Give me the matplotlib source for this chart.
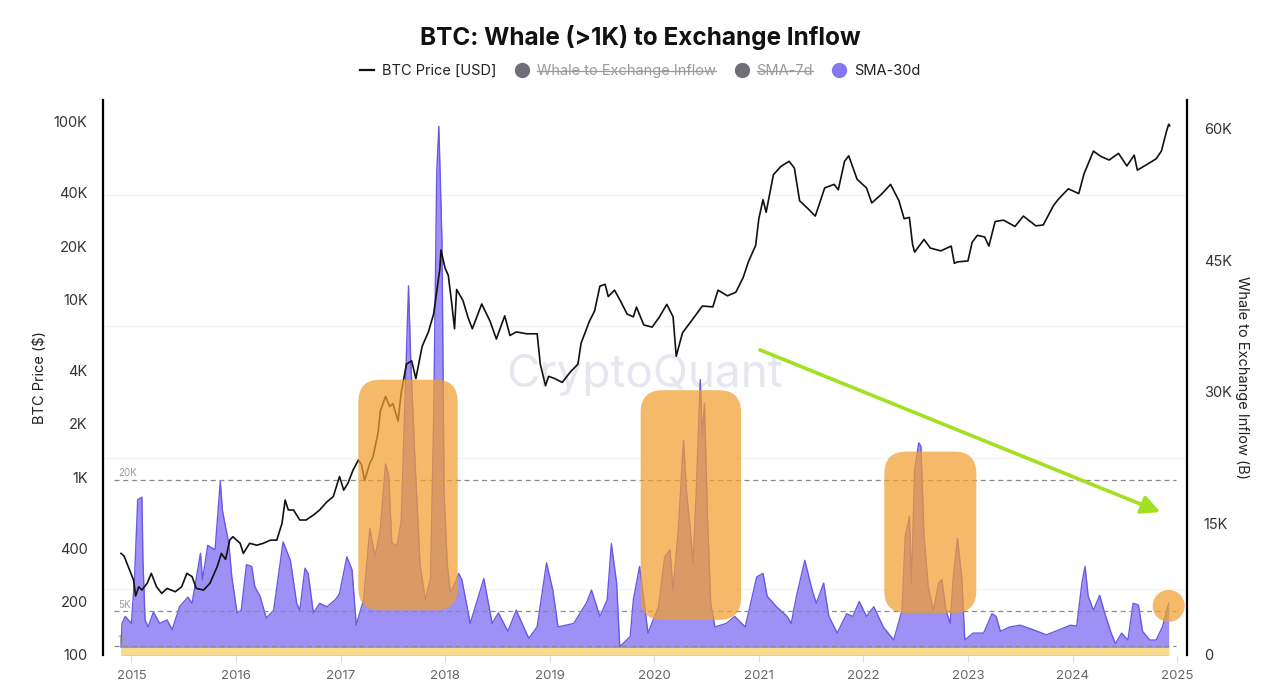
import matplotlib
matplotlib.use("Agg")
import matplotlib.pyplot as plt
from matplotlib.lines import Line2D
from matplotlib.patches import FancyBboxPatch, Ellipse
from matplotlib.ticker import FixedLocator, MultipleLocator

plt.rcParams["font.family"] = ["Inter", "DejaVu Sans"]

# BTC price (USD), decimal year -> price
price_t = [2014.90, 2014.93, 2014.97, 2015.02, 2015.04, 2015.07, 2015.10, 2015.15, 2015.19, 2015.24,
           2015.29, 2015.34, 2015.42, 2015.48, 2015.53, 2015.58, 2015.62, 2015.69, 2015.75, 2015.82,
           2015.86, 2015.90, 2015.94, 2015.97, 2016.04, 2016.07, 2016.13, 2016.20, 2016.26, 2016.33,
           2016.39, 2016.44, 2016.47, 2016.50, 2016.55, 2016.61, 2016.67, 2016.74, 2016.80, 2016.87,
           2016.93, 2016.99, 2017.03, 2017.07, 2017.12, 2017.17, 2017.20, 2017.23, 2017.28, 2017.31,
           2017.36, 2017.38, 2017.43, 2017.47, 2017.50, 2017.55, 2017.58, 2017.63, 2017.68, 2017.72,
           2017.78, 2017.84, 2017.89, 2017.95, 2017.96, 2018.00, 2018.03, 2018.06, 2018.09, 2018.11,
           2018.17, 2018.22, 2018.26, 2018.35, 2018.43, 2018.49, 2018.57, 2018.62, 2018.68, 2018.78,
           2018.88, 2018.91, 2018.96, 2018.99, 2019.05, 2019.12, 2019.20, 2019.27, 2019.30, 2019.38,
           2019.43, 2019.48, 2019.53, 2019.56, 2019.62, 2019.67, 2019.74, 2019.80, 2019.83, 2019.90,
           2019.98, 2020.05, 2020.12, 2020.18, 2020.21, 2020.27, 2020.36, 2020.46, 2020.56, 2020.61,
           2020.70, 2020.78, 2020.85, 2020.90, 2020.97, 2021.00, 2021.04, 2021.07, 2021.14, 2021.21,
           2021.29, 2021.34, 2021.39, 2021.47, 2021.54, 2021.63, 2021.72, 2021.76, 2021.82, 2021.86,
           2021.94, 2022.03, 2022.08, 2022.17, 2022.26, 2022.34, 2022.39, 2022.44, 2022.47, 2022.49,
           2022.58, 2022.64, 2022.74, 2022.84, 2022.87, 2022.90, 2023.00, 2023.04, 2023.09, 2023.16,
           2023.20, 2023.26, 2023.34, 2023.45, 2023.53, 2023.65, 2023.72, 2023.82, 2023.87, 2023.96,
           2024.06, 2024.11, 2024.20, 2024.27, 2024.35, 2024.44, 2024.52, 2024.59, 2024.62, 2024.71,
           2024.80, 2024.85, 2024.90, 2024.92, 2024.93]
price_v = [373, 360, 314, 264, 215, 242, 232, 253, 288, 242,
           222, 237, 227, 242, 288, 276, 237, 232, 253, 314,
           373, 345, 443, 463, 425, 373, 425, 415, 425, 443,
           443, 551, 745, 655, 655, 575, 575, 613, 655, 728,
           778, 1010, 847, 925, 1100, 1250, 1180, 960, 1200, 1300,
           1800, 2360, 2850, 2500, 2600, 2070, 2990, 4330, 4520, 3590,
           5450, 6580, 8300, 15000, 19000, 15000, 13700, 9900, 6850, 11400,
           9900, 7900, 6850, 9450, 7550, 6000, 8100, 6280, 6580, 6420,
           6420, 4330, 3280, 3700, 3590, 3420, 3930, 4330, 5680, 7550,
           8650, 11900, 12200, 10400, 11300, 10000, 8300, 8000, 9070, 7200,
           7000, 8000, 9400, 8000, 4800, 6500, 7650, 9200, 9100, 11300,
           10500, 11000, 13300, 16300, 20200, 28500, 36500, 31000, 50500, 56100,
           60000, 55000, 36000, 32500, 29500, 42500, 44500, 41500, 60000, 64400,
           47500, 42500, 35000, 39000, 44500, 36000, 28500, 29000, 20500, 18500,
           21800, 19500, 18800, 20000, 16000, 16300, 16500, 21000, 23000, 22500,
           20000, 27500, 28000, 25800, 29500, 26000, 26300, 34000, 37000, 42000,
           39500, 51000, 68500, 64000, 61000, 66500, 56500, 65000, 53500, 57500,
           62000, 68500, 89000, 97000, 95000]

# Whale to Exchange Inflow, SMA-30d (BTC)
inflow_t = [2014.90, 2014.91, 2014.94, 2015.00, 2015.03, 2015.06, 2015.10, 2015.11, 2015.13, 2015.16,
            2015.21, 2015.27, 2015.34, 2015.39, 2015.46, 2015.54, 2015.58, 2015.66, 2015.68, 2015.73,
            2015.80, 2015.85, 2015.87, 2015.90, 2015.93, 2015.96, 2016.01, 2016.05, 2016.10, 2016.15,
            2016.18, 2016.23, 2016.29, 2016.36, 2016.45, 2016.52, 2016.58, 2016.61, 2016.66, 2016.69,
            2016.74, 2016.80, 2016.87, 2016.95, 2016.99, 2017.06, 2017.11, 2017.15, 2017.22, 2017.28,
            2017.33, 2017.38, 2017.43, 2017.46, 2017.49, 2017.54, 2017.58, 2017.62, 2017.65, 2017.67,
            2017.71, 2017.76, 2017.81, 2017.86, 2017.89, 2017.92, 2017.94, 2017.97, 2017.99, 2018.02,
            2018.05, 2018.11, 2018.13, 2018.16, 2018.24, 2018.37, 2018.45, 2018.51, 2018.60, 2018.68,
            2018.80, 2018.88, 2018.97, 2019.03, 2019.08, 2019.23, 2019.35, 2019.40, 2019.48, 2019.55,
            2019.59, 2019.64, 2019.67, 2019.77, 2019.80, 2019.86, 2019.90, 2019.94, 2019.99, 2020.04,
            2020.10, 2020.15, 2020.18, 2020.23, 2020.28, 2020.31, 2020.34, 2020.37, 2020.40, 2020.44,
            2020.46, 2020.48, 2020.51, 2020.54, 2020.58, 2020.69, 2020.77, 2020.87, 2020.98, 2021.04,
            2021.08, 2021.17, 2021.27, 2021.31, 2021.36, 2021.44, 2021.51, 2021.55, 2021.62, 2021.67,
            2021.75, 2021.84, 2021.90, 2021.96, 2022.03, 2022.10, 2022.19, 2022.29, 2022.37, 2022.40,
            2022.44, 2022.46, 2022.49, 2022.53, 2022.55, 2022.58, 2022.62, 2022.67, 2022.72, 2022.75,
            2022.79, 2022.83, 2022.86, 2022.90, 2022.94, 2022.97, 2023.05, 2023.15, 2023.23, 2023.27,
            2023.31, 2023.40, 2023.50, 2023.62, 2023.75, 2023.88, 2023.98, 2024.04, 2024.09, 2024.12,
            2024.15, 2024.20, 2024.26, 2024.31, 2024.37, 2024.41, 2024.47, 2024.53, 2024.58, 2024.63,
            2024.67, 2024.74, 2024.80, 2024.86, 2024.92]
inflow_v = [0.9, 3.6, 4.4, 3.6, 8.9, 17.7, 18.0, 10.8, 4.0, 3.2,
            4.9, 3.6, 4.0, 2.9, 5.5, 6.6, 5.9, 11.6, 8.6, 12.5,
            12.0, 19.8, 16.5, 14.6, 12.8, 8.9, 4.8, 5.1, 10.3, 10.1,
            7.8, 6.7, 4.2, 5.1, 12.9, 10.8, 5.9, 5.1, 9.9, 9.3,
            4.8, 5.9, 5.5, 6.3, 7.0, 11.2, 9.7, 3.4, 6.3, 14.4,
            11.2, 14.4, 21.8, 20.5, 12.8, 12.4, 15.3, 30.7, 42.1, 34.0,
            22.6, 10.4, 6.3, 8.7, 26.7, 55.2, 60.3, 47.0, 18.5, 10.4,
            7.1, 8.6, 9.3, 8.6, 3.6, 8.7, 3.6, 4.8, 2.7, 5.1,
            1.9, 3.2, 10.5, 7.4, 3.2, 3.6, 5.9, 7.4, 4.4, 6.3,
            12.7, 8.2, 0.95, 2.1, 6.3, 10.1, 6.3, 2.5, 4.0, 5.5,
            11.2, 12.0, 7.4, 14.3, 24.5, 18.4, 15.0, 10.5, 18.1, 31.4,
            24.9, 28.7, 15.4, 5.9, 3.2, 3.6, 4.4, 3.2, 8.9, 9.3,
            6.7, 5.5, 4.4, 3.6, 6.7, 10.8, 7.4, 5.9, 8.2, 4.4,
            2.5, 4.7, 4.4, 6.1, 4.4, 5.5, 3.2, 1.7, 5.1, 13.5,
            15.8, 8.2, 21.1, 24.2, 23.8, 13.5, 7.8, 5.1, 8.2, 8.6,
            5.1, 3.6, 8.9, 13.3, 8.9, 1.7, 2.5, 2.5, 4.7, 4.4,
            2.7, 3.2, 3.4, 2.9, 2.3, 2.9, 3.4, 3.3, 8.2, 10.1,
            6.7, 5.1, 6.8, 4.7, 2.5, 1.3, 2.5, 1.7, 5.9, 5.7,
            2.7, 1.7, 1.7, 3.2, 5.9]
inflow_v = [v * 1000 for v in inflow_v]

year_ticks = list(range(2015, 2026))
price_ticks = [100, 200, 400, 1000, 2000, 4000, 10000, 20000, 40000, 100000]
price_labels = ["100", "200", "400", "1K", "2K", "4K", "10K", "20K", "40K", "100K"]
inflow_ticks = [0, 15000, 30000, 45000, 60000]
inflow_labels = ["0", "15K", "30K", "45K", "60K"]
ref_levels = [1000, 5000, 20000]
ref_labels = ["1K", "5K", "20K"]

# highlight boxes: (year0, year1, inflow0, inflow1)
highlight_boxes = [(2017.17, 2018.12, 5100, 31400),
                   (2019.87, 2020.83, 4000, 30200),
                   (2022.20, 2023.08, 4800, 23200)]

W, H = 12.8, 6.9
fig = plt.figure(figsize=(W, H), dpi=100)
ax_l, ax_b, ax_w, ax_h = 103 / 1280, 1 - 655 / 690, (1187 - 103) / 1280, (655 - 100) / 690
ax2 = fig.add_axes([ax_l, ax_b, ax_w, ax_h])
ax = ax2.twinx()
ax.yaxis.tick_left()
ax2.yaxis.tick_right()

xmin, xmax = 2014.728, 2025.095
y2max = 63300
ax2.set_xlim(xmin, xmax)
ax2.set_ylim(0, y2max)
ax.set_yscale("log")
ax.set_ylim(100, 132800)

# inflow fill
ax2.fill_between(inflow_t, inflow_v, 0, color="#9e90f4", lw=0, zorder=2)
ax2.plot(inflow_t, inflow_v, color="#6a59e2", lw=1.0, zorder=3)
ax2.fill_between([inflow_t[0], inflow_t[-1]], 850, 0, color="#f6dc8e", lw=0, zorder=4)
for lvl, lab in zip(ref_levels, ref_labels):
    ax2.axhline(lvl, xmin=0.01, xmax=0.99, color="#8a8a8a", lw=0.9, ls=(0, (4, 3)), zorder=5)
    ax2.text(2014.87, lvl + 400, lab, color="#9a9a9a", fontsize=7, zorder=5)

# watermark
ax2.text(2019.91, 31900, "CryptoQuant", fontsize=33, color="#e6e6ee", ha="center", va="center",
         zorder=1)

# faint grid
ax2.yaxis.set_minor_locator(MultipleLocator(7500))
ax2.grid(axis="y", which="minor", color="#f3f3f3", lw=0.8, zorder=0)
ax2.set_axisbelow(True)

# price line on top
ax.set_zorder(ax2.get_zorder() + 1)
ax.patch.set_visible(False)
ax.plot(price_t, price_v, color="#111111", lw=1.2, zorder=3)

# orange highlight boxes
x_per_px = (xmax - xmin) / (ax_w * W * 100)
y_per_px = y2max / (ax_h * H * 100)
aspect = y_per_px / x_per_px
r = 22 * x_per_px
for x0, x1, y0, y1 in highlight_boxes:
    box = FancyBboxPatch((x0, y0), x1 - x0, y1 - y0,
                         boxstyle=f"round,pad=0,rounding_size={r}",
                         mutation_aspect=aspect, transform=ax2.transData,
                         facecolor="#f0a030", edgecolor="none", alpha=0.72, zorder=6)
    ax.add_patch(box)
circ = Ellipse((2024.92, 5600), 32 * x_per_px, 32 * y_per_px, transform=ax2.transData,
               facecolor="#f0a030", edgecolor="none", alpha=0.72, zorder=6)
ax.add_patch(circ)

# green trend arrow
ax.annotate("", xy=(2024.84, 16300), xytext=(2021.01, 34800),
            xycoords=ax2.transData, textcoords=ax2.transData,
            arrowprops=dict(arrowstyle="-|>", color="#a2e022", lw=2.6, mutation_scale=28,
                            shrinkA=0, shrinkB=0), zorder=7)

# axes styling
ax.yaxis.set_major_locator(FixedLocator(price_ticks))
ax.yaxis.set_minor_locator(FixedLocator([]))
ax.set_yticklabels(price_labels)
ax2.set_yticks(inflow_ticks)
ax2.set_yticklabels(inflow_labels)
ax2.set_xticks(year_ticks)
ax2.set_xticklabels([str(y) for y in year_ticks])
ax.tick_params(axis="y", length=0, pad=11, labelsize=10.5, labelcolor="#333333")
ax2.tick_params(axis="y", which="both", length=0, pad=12, labelsize=10.5, labelcolor="#333333")
ax2.tick_params(axis="x", length=5, color="#dddddd", pad=6, labelsize=9.5, labelcolor="#666666")
for a in (ax, ax2):
    a.spines["top"].set_visible(False)
    a.spines["bottom"].set_visible(False)
ax.spines["left"].set_linewidth(1.6)
ax.spines["right"].set_linewidth(1.6)
ax2.spines["left"].set_visible(False)
ax2.spines["right"].set_visible(False)

fig.text(40 / 1280, 1 - 378 / 690, "BTC Price ($)", rotation=90, ha="center", va="center",
         fontsize=10.5, color="#222222")
fig.text(1242 / 1280, 1 - 378 / 690, "Whale to Exchange Inflow (B)", rotation=270, ha="center",
         va="center", fontsize=10.5, color="#222222")
fig.text(0.5, 1 - 37 / 690, "BTC: Whale (>1K) to Exchange Inflow", ha="center", va="center",
         fontsize=17.5, fontweight="bold", color="#111111")

handles = [Line2D([], [], color="#111111", lw=1.6),
           Line2D([], [], color="#6f6f78", marker="o", ms=10, lw=0),
           Line2D([], [], color="#6f6f78", marker="o", ms=10, lw=0),
           Line2D([], [], color="#8676f0", marker="o", ms=10, lw=0)]
names = ["BTC Price [USD]", "Whale to Exchange Inflow", "SMA-7d", "SMA-30d"]
leg = fig.legend(handles, names, loc="center", bbox_to_anchor=(0.5, 1 - 71 / 690), ncol=4,
                 frameon=False, fontsize=10.5, handlelength=1.0, handletextpad=0.5,
                 columnspacing=1.3)
for t, c in zip(leg.get_texts(), ["#222222", "#9a9a9a", "#9a9a9a", "#222222"]):
    t.set_color(c)

fig.canvas.draw()
inv = fig.transFigure.inverted()
for t in leg.get_texts()[1:3]:
    bb = t.get_window_extent()
    ym = (bb.y0 + bb.y1) / 2
    (fx0, fy), (fx1, _) = inv.transform([(bb.x0, ym), (bb.x1, ym)])
    fig.add_artist(Line2D([fx0, fx1], [fy, fy], transform=fig.transFigure, color="#9a9a9a", lw=0.9))

fig.savefig("out.png", dpi=100)
